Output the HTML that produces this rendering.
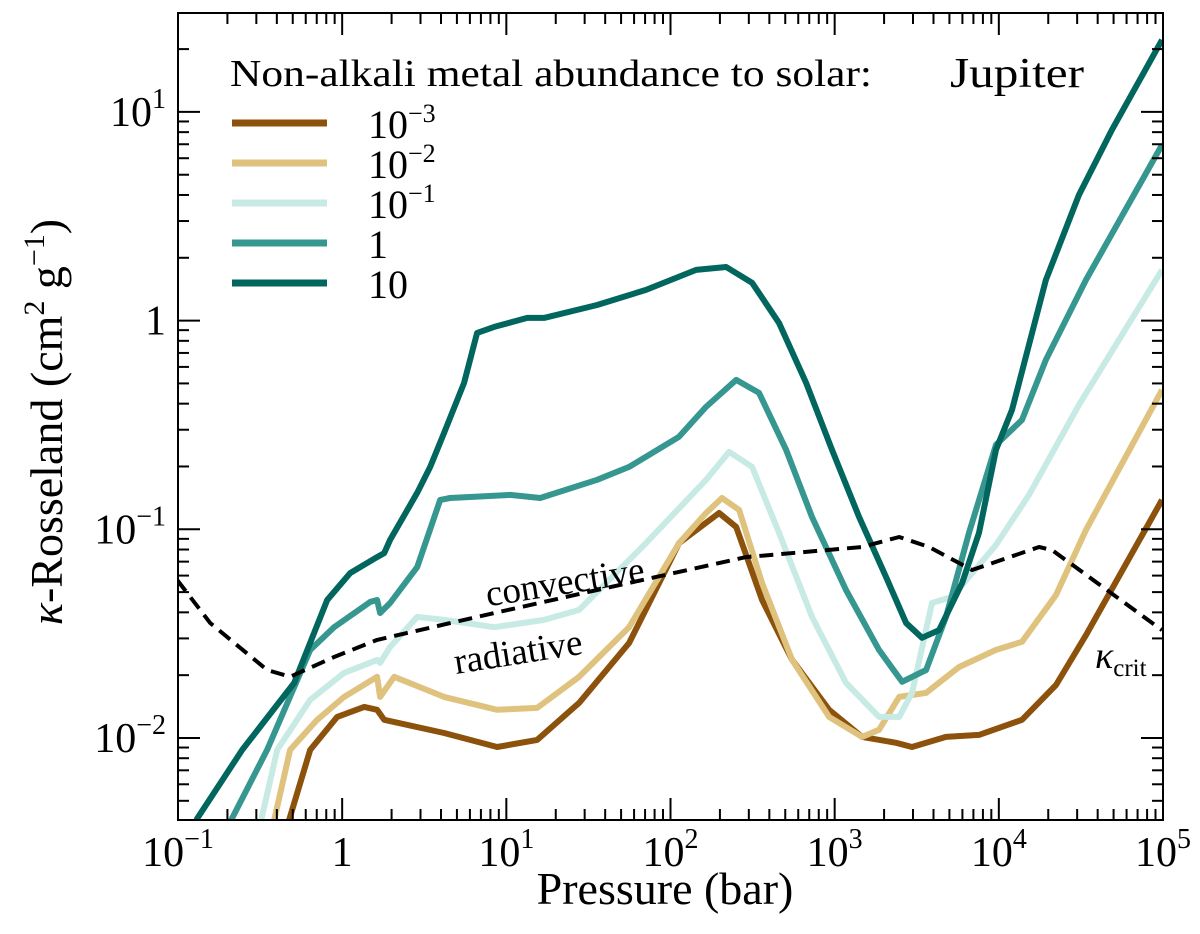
<!DOCTYPE html>
<html><head><meta charset="utf-8">
<style>
body{margin:0;background:#fff;}
svg{display:block;font-family:"Liberation Serif",serif;}
</style></head>
<body>
<svg id="chart" width="1200" height="934" viewBox="0 0 1200 934">
<g id="marks"></g>
<g id="axes"></g>
</svg>
<script>
// data: [log10 P (bar), log10 kappa]
const series001 = [[-0.323,-2.393],[-0.195,-2.057],[-0.030,-1.899],[0.134,-1.851],[0.213,-1.865],[0.256,-1.913],[0.621,-1.976],[0.944,-2.043],[1.188,-2.009],[1.443,-1.832],[1.748,-1.545],[2.052,-1.066],[2.296,-0.922],[2.400,-0.989],[2.558,-1.339],[2.741,-1.626],[2.966,-1.865],[3.167,-1.995],[3.374,-2.023],[3.471,-2.043],[3.678,-1.995],[3.879,-1.985],[4.141,-1.913],[4.348,-1.746],[4.531,-1.507],[4.994,-0.859]];
const series01 = [[-0.414,-2.393],[-0.317,-2.057],[-0.152,-1.913],[0.012,-1.803],[0.213,-1.707],[0.231,-1.803],[0.317,-1.707],[0.621,-1.803],[0.944,-1.865],[1.188,-1.856],[1.443,-1.707],[1.748,-1.469],[2.052,-1.066],[2.217,-0.922],[2.314,-0.850],[2.418,-0.907],[2.558,-1.258],[2.741,-1.626],[2.966,-1.899],[3.167,-1.995],[3.270,-1.961],[3.393,-1.803],[3.557,-1.784],[3.758,-1.660],[3.983,-1.578],[4.141,-1.539],[4.348,-1.315],[4.531,-1.003],[4.994,-0.332]];
const series1 = [[-0.493,-2.393],[-0.396,-2.057],[-0.195,-1.817],[0.012,-1.688],[0.213,-1.626],[0.231,-1.640],[0.292,-1.564],[0.457,-1.420],[0.621,-1.434],[0.926,-1.469],[1.230,-1.434],[1.443,-1.386],[1.851,-1.066],[2.217,-0.763],[2.357,-0.629],[2.497,-0.701],[2.661,-1.017],[2.862,-1.420],[3.069,-1.736],[3.270,-1.899],[3.393,-1.899],[3.471,-1.784],[3.593,-1.353],[3.715,-1.324],[3.983,-1.075],[4.184,-0.835],[4.488,-0.404],[4.994,0.243]];
const series1x = [[-0.676,-2.393],[-0.457,-2.057],[-0.195,-1.578],[-0.049,-1.469],[0.171,-1.348],[0.213,-1.339],[0.231,-1.401],[0.292,-1.353],[0.457,-1.181],[0.597,-0.859],[0.658,-0.850],[1.023,-0.835],[1.206,-0.850],[1.553,-0.763],[1.748,-0.701],[2.052,-0.557],[2.217,-0.413],[2.400,-0.284],[2.539,-0.346],[2.704,-0.619],[2.862,-0.941],[3.069,-1.291],[3.270,-1.578],[3.411,-1.731],[3.557,-1.674],[3.678,-1.420],[3.818,-1.017],[3.983,-0.595],[4.141,-0.476],[4.287,-0.188],[4.531,0.195],[4.994,0.842]];
const series10 = [[-0.889,-2.393],[-0.609,-2.057],[-0.292,-1.736],[-0.091,-1.339],[0.049,-1.210],[0.213,-1.133],[0.256,-1.114],[0.292,-1.051],[0.457,-0.825],[0.536,-0.701],[0.621,-0.538],[0.743,-0.298],[0.822,-0.059],[0.926,-0.030],[1.127,0.013],[1.230,0.013],[1.553,0.075],[1.851,0.147],[2.156,0.243],[2.339,0.257],[2.497,0.181],[2.661,-0.011],[2.826,-0.298],[2.984,-0.619],[3.149,-0.941],[3.313,-1.229],[3.435,-1.449],[3.532,-1.520],[3.636,-1.483],[3.776,-1.258],[3.879,-1.017],[3.983,-0.619],[4.080,-0.428],[4.287,0.195],[4.488,0.602],[4.689,0.914],[4.994,1.345]];
const kappaCrit = [[-1.005,-1.243],[-0.804,-1.449],[-0.457,-1.674],[-0.317,-1.707],[-0.049,-1.612],[0.213,-1.530],[0.822,-1.420],[1.553,-1.291],[2.460,-1.133],[3.167,-1.085],[3.393,-1.037],[3.575,-1.085],[3.837,-1.195],[4.245,-1.085],[4.324,-1.099],[4.994,-1.483]];
const seriesNames = ["abundance-0.001","abundance-0.01","abundance-0.1","abundance-1","abundance-10"];
const seriesLabels = ["10<tspan dy='-16' font-size='26'>−3</tspan>","10<tspan dy='-16' font-size='26'>−2</tspan>","10<tspan dy='-16' font-size='26'>−1</tspan>","1","10"];
const seriesColors = ["#8c510a","#dfc27d","#c7eae5","#35978f","#01665e"];
const xTickLabels = ["10<tspan dy='-18' font-size='28'>−1</tspan>","1","10<tspan dy='-18' font-size='28'>1</tspan>","10<tspan dy='-18' font-size='28'>2</tspan>","10<tspan dy='-18' font-size='28'>3</tspan>","10<tspan dy='-18' font-size='28'>4</tspan>","10<tspan dy='-18' font-size='28'>5</tspan>"];
const xTickExps = [-1,0,1,2,3,4,5];
const yTickLabels = ["10<tspan dy='-18' font-size='28'>−2</tspan>","10<tspan dy='-18' font-size='28'>−1</tspan>","1","10<tspan dy='-18' font-size='28'>1</tspan>"];
const yTickExps = [-2,-1,0,1];

const L=178,R=1163,T=13,B=820;
const xMin=-1,xMax=5,yMin=-2.393,yMax=1.474;
const xs=v=>L+(v-xMin)/(xMax-xMin)*(R-L);
const ys=v=>B-(v-yMin)/(yMax-yMin)*(B-T);
const NS="http://www.w3.org/2000/svg";
const marks=document.getElementById('marks'), axes=document.getElementById('axes');
function mk(tag,attrs,parent){const e=document.createElementNS(NS,tag);for(const k in attrs)e.setAttribute(k,attrs[k]);parent.appendChild(e);return e;}

const clip=mk('clipPath',{id:'pc'},marks);mk('rect',{x:L,y:T,width:R-L,height:B-T},clip);
const g=mk('g',{'clip-path':'url(#pc)'},marks);
function pathOf(d){return d.map((p,i)=>(i?'L':'M')+xs(p[0]).toFixed(1)+','+ys(p[1]).toFixed(1)).join('');}
const allSeries=[series001,series01,series1,series1x,series10];
allSeries.forEach((s,i)=>{
  const p=mk('path',{d:pathOf(s),fill:'none',stroke:seriesColors[i],'stroke-width':6,'stroke-linejoin':'round'},g);
  
  
});
const kc=mk('path',{d:pathOf(kappaCrit),fill:'none',stroke:'#000','stroke-width':4,'stroke-dasharray':'14,8','stroke-linejoin':'round'},g);



const fr=mk('rect',{x:L,y:T,width:R-L,height:B-T,fill:'none',stroke:'#000','stroke-width':2},axes);


for(let e=-1;e<5;e++){for(let m=1;m<10;m++){const v=e+Math.log10(m);const x=xs(v);const len=m===1?22:11;
 mk('line',{x1:x,x2:x,y1:B,y2:B-len,stroke:'#000','stroke-width':2},axes);
 mk('line',{x1:x,x2:x,y1:T,y2:T+len,stroke:'#000','stroke-width':2},axes);}}
xTickExps.forEach((e,i)=>{const t=mk('text',{x:xs(e),y:866,'font-size':42,'text-anchor':'middle'},axes);t.innerHTML=xTickLabels[i];
 
 });
for(let e=-3;e<2;e++){for(let m=1;m<10;m++){const v=e+Math.log10(m);if(v<yMin||v>yMax)continue;const y=ys(v);const len=m===1?22:11;
 mk('line',{x1:L,x2:L+len,y1:y,y2:y,stroke:'#000','stroke-width':2},axes);
 mk('line',{x1:R,x2:R-len,y1:y,y2:y,stroke:'#000','stroke-width':2},axes);}}
yTickExps.forEach((e,i)=>{const t=mk('text',{x:166,y:ys(e)+14,'font-size':42,'text-anchor':'end'},axes);t.innerHTML=yTickLabels[i];
 
 });

const lg=mk('g',{},axes);


const lt=mk('text',{x:230,y:86,'font-size':38,textLength:642,lengthAdjust:'spacingAndGlyphs'},lg);lt.textContent='Non-alkali metal abundance to solar:';


seriesNames.forEach((n,i)=>{const y=123+i*40;
 const ln=mk('line',{x1:232,x2:327,y1:y,y2:y,stroke:seriesColors[i],'stroke-width':7},lg);
 
 
 const t=mk('text',{x:368,y:y+15,'font-size':40},lg);t.innerHTML=seriesLabels[i];
 
 });
</script>
<svg width="1200" height="934" style="position:absolute;left:0;top:0">
<text x="1017" y="87" font-size="42" text-anchor="middle" textLength="134" lengthAdjust="spacingAndGlyphs">Jupiter</text>
<text x="565" y="594" font-size="37" text-anchor="middle" transform="rotate(-9 565 582)">convective</text>
<text x="518" y="664" font-size="37" text-anchor="middle" transform="rotate(-9 518 652)">radiative</text>
<text x="1095" y="668" font-size="38" font-style="italic">κ<tspan font-style="normal" font-size="25" dy="8">crit</tspan></text>
<text x="665" y="904" font-size="46" text-anchor="middle">Pressure (bar)</text>
<text x="0" y="0" font-size="46" text-anchor="middle" transform="translate(62 422) rotate(-90)"><tspan font-style="italic">κ</tspan>-Rosseland (cm<tspan dy="-18" font-size="30">2</tspan><tspan dy="18"> g</tspan><tspan dy="-18" font-size="30">−1</tspan><tspan dy="18">)</tspan></text>
</svg>
</body></html>
